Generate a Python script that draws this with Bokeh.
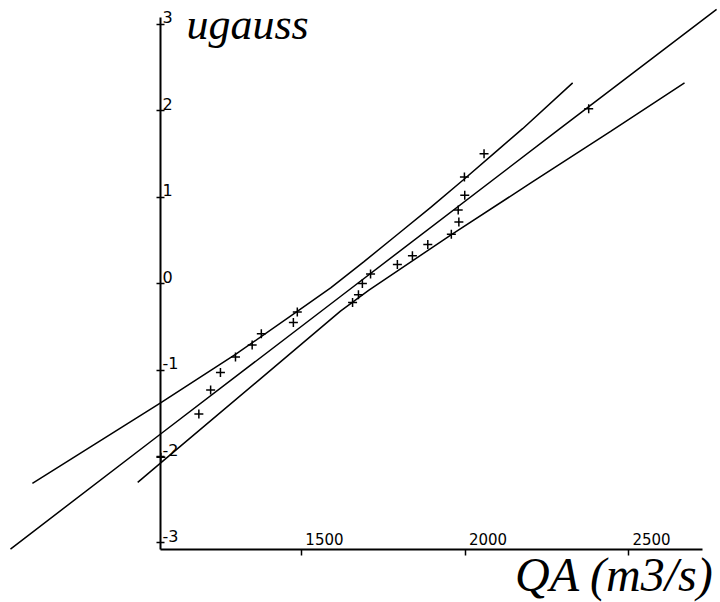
from bokeh.plotting import figure
from bokeh.models import LinearAxis, FixedTicker, Range1d
from bokeh.core.properties import value
from bokeh.embed import file_html
from bokeh.resources import INLINE

# Observed points (discharge QA in m3/s, gaussian variable u)
qa = [1070, 1186, 1222, 1252, 1298, 1349, 1377, 1475, 1487, 1656, 1674, 1686,
      1711, 1793, 1839, 1886, 1958, 1981, 1979, 1999, 1998, 2058, 2378]
u = [-2.01, -1.51, -1.23, -1.03, -0.85, -0.71, -0.58, -0.45, -0.33, -0.22, -0.13, 0.00,
     0.11, 0.22, 0.32, 0.45, 0.57, 0.71, 0.85, 1.02, 1.23, 1.50, 2.02]

# Fitted line
fit_qa = [610, 1069, 1619, 2283, 2769]
fit_u = [-3.07, -1.74, -0.15, 1.77, 3.17]

# Upper confidence band
up_qa = [677, 1069, 1298, 1488, 1589, 1690, 1794, 1895, 1995, 2099, 2176, 2329]
up_u = [-2.31, -1.38, -0.82, -0.32, -0.05, 0.25, 0.57, 0.88, 1.20, 1.54, 1.79, 2.32]

# Lower confidence band
lo_qa = [999, 1130, 1375, 1619, 1705, 1956, 2200, 2445, 2671]
lo_u = [-2.30, -1.88, -1.10, -0.32, -0.08, 0.56, 1.16, 1.76, 2.32]

x_ticks = [1500, 2000, 2500]
x_tick_labels = ["1500", "2000", "2500"]
y_ticks = [-3, -2, -1, 0, 1, 2, 3]
y_tick_labels = ["-3", "-2", "-1", "0", "1", "2", "3"]

X_AXIS_AT = -3.075
Y_AXIS_AT = 1069

p = figure(width=720, height=602, x_range=Range1d(579.5, 2781), y_range=Range1d(-3.688, 3.272),
           output_backend="svg", toolbar_location=None,
           x_axis_location=None, y_axis_location=None, min_border=0)
p.outline_line_color = None
p.background_fill_color = "white"
p.border_fill_color = "white"
p.xgrid.grid_line_color = None
p.ygrid.grid_line_color = None

# x axis: line + ticks
xaxis = LinearAxis(fixed_location=X_AXIS_AT, ticker=FixedTicker(ticks=x_ticks), bounds=(1069, 2725))
xaxis.axis_line_width = 2
xaxis.major_tick_in = 6
xaxis.major_tick_out = 0
xaxis.major_tick_line_width = 1.5
xaxis.minor_tick_line_color = None
xaxis.major_label_overrides = {t: "" for t in x_ticks}
p.add_layout(xaxis, "above")

# x axis labels (sitting right of their ticks, above the line)
x_lab_pos = [t + 70 for t in x_ticks]
xlab = LinearAxis(fixed_location=X_AXIS_AT, ticker=FixedTicker(ticks=x_lab_pos))
xlab.axis_line_color = None
xlab.major_tick_line_color = None
xlab.minor_tick_line_color = None
xlab.major_tick_in = 0
xlab.major_tick_out = 0
xlab.major_label_standoff = 4
xlab.major_label_overrides = dict(zip(x_lab_pos, x_tick_labels))
xlab.major_label_text_font = "DejaVu Sans"
xlab.major_label_text_font_size = "15px"
xlab.major_label_text_color = "black"
p.add_layout(xlab, "above")

# y axis: line + ticks
yaxis = LinearAxis(fixed_location=Y_AXIS_AT, ticker=FixedTicker(ticks=y_ticks), bounds=(-3.075, 3.075))
yaxis.axis_line_width = 2
yaxis.major_tick_in = 4
yaxis.major_tick_out = 4
yaxis.major_tick_line_width = 1.5
yaxis.minor_tick_line_color = None
yaxis.major_label_overrides = {t: "" for t in y_ticks}
p.add_layout(yaxis, "right")

# y axis labels (slightly above their ticks)
y_lab_pos = [t + 0.08 for t in y_ticks]
ylab = LinearAxis(fixed_location=Y_AXIS_AT, ticker=FixedTicker(ticks=y_lab_pos))
ylab.axis_line_color = None
ylab.major_tick_line_color = None
ylab.minor_tick_line_color = None
ylab.major_tick_in = 0
ylab.major_tick_out = 0
ylab.major_label_standoff = 2
ylab.major_label_overrides = dict(zip(y_lab_pos, y_tick_labels))
ylab.major_label_text_font = "DejaVu Sans"
ylab.major_label_text_font_size = "16px"
ylab.major_label_text_color = "black"
p.add_layout(ylab, "right")

p.line(fit_qa, fit_u, line_color="black", line_width=1.5)
p.line(up_qa, up_u, line_color="black", line_width=1.5)
p.line(lo_qa, lo_u, line_color="black", line_width=1.5)
p.scatter(qa, u, marker="cross", size=9, line_width=1.5, line_color="black")

p.text(x=[1148], y=[2.99], text=["ugauss"], text_font=value("Liberation Serif"),
       text_font_style="italic", text_font_size="44px", text_color="black",
       text_align="left", text_baseline="alphabetic")
p.text(x=[2760], y=[-3.36], text=["QA (m3/s)"], text_font=value("Liberation Serif"),
       text_font_style="italic", text_font_size="48px", text_color="black",
       text_align="right", text_baseline="alphabetic")

open("out.html", "w").write(file_html(p, INLINE))
